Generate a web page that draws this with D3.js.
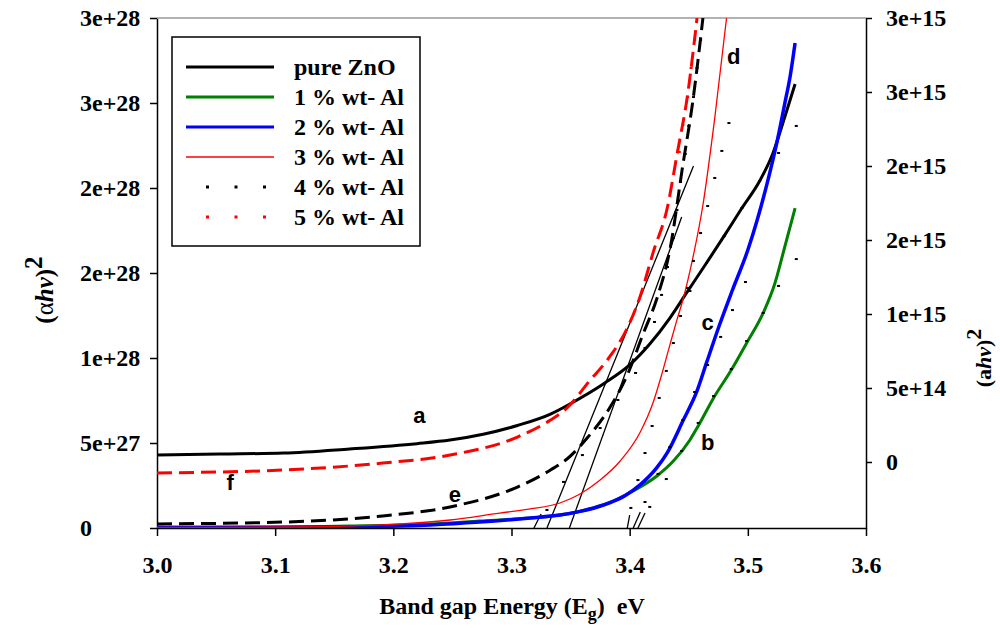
<!DOCTYPE html>
<html>
<head>
<meta charset="utf-8">
<title>Band gap</title>
<script src="https://cdn.jsdelivr.net/npm/d3@7"></script>
<style>
  body { margin: 0; background: #fff; }
  text { font-family: "Liberation Serif", "Times New Roman", serif; font-weight: bold; fill: #000; }
  .lbl { font-family: "Liberation Sans", Arial, sans-serif; font-size: 22px; }
</style>
</head>
<body>
<script>
// energies in eV, values in units of 1e27 on the left axis
let pureZnO = [[3.000,4.29],[3.053,4.35],[3.107,4.41],[3.163,4.65],[3.220,4.96],[3.248,5.17],[3.276,5.51],[3.305,6.03],[3.333,6.70],[3.349,7.28],[3.379,8.53],[3.400,9.59],[3.417,10.82],[3.434,12.35],[3.447,13.71],[3.465,15.59],[3.480,17.18],[3.495,18.82],[3.510,20.41],[3.521,22.00],[3.531,24.12],[3.540,26.12]]
let al1 = [[3.000,0.06],[3.079,0.06],[3.163,0.12],[3.231,0.24],[3.273,0.41],[3.316,0.59],[3.341,0.76],[3.369,1.18],[3.383,1.50],[3.398,2.00],[3.423,3.06],[3.437,3.94],[3.451,5.18],[3.458,6.00],[3.471,7.65],[3.486,9.29],[3.499,10.88],[3.513,12.65],[3.523,14.41],[3.531,16.47],[3.540,18.82]]
let al2 = [[3.000,0.02],[3.079,0.03],[3.163,0.06],[3.231,0.18],[3.273,0.35],[3.316,0.59],[3.341,0.76],[3.358,0.98],[3.372,1.22],[3.383,1.48],[3.396,1.90],[3.409,2.55],[3.423,3.55],[3.432,4.45],[3.445,6.29],[3.457,8.06],[3.465,9.71],[3.476,11.94],[3.487,14.00],[3.500,16.35],[3.516,20.18],[3.525,22.82],[3.531,24.88],[3.536,26.65],[3.540,28.53]]
let al3 = [[3.000,0.03],[3.121,0.06],[3.206,0.24],[3.248,0.47],[3.290,0.88],[3.316,1.12],[3.341,1.47],[3.358,2.00],[3.375,2.82],[3.392,3.94],[3.409,5.65],[3.420,7.41],[3.427,9.00],[3.434,10.76],[3.440,12.24],[3.445,13.41],[3.454,16.06],[3.462,19.00],[3.472,24.12],[3.482,30.00]]
let al4 = [[3.000,0.24],[3.107,0.35],[3.191,0.71],[3.248,1.24],[3.305,2.41],[3.333,3.41],[3.347,4.06],[3.364,5.29],[3.383,7.06],[3.398,9.00],[3.411,11.35],[3.424,13.71],[3.434,16.35],[3.445,21.35],[3.453,24.88],[3.462,30.00]]
let al5 = [[3.000,3.24],[3.107,3.41],[3.191,3.82],[3.248,4.29],[3.305,5.35],[3.333,6.35],[3.347,7.06],[3.366,8.65],[3.383,10.06],[3.398,11.76],[3.409,13.65],[3.420,16.24],[3.432,18.88],[3.440,21.94],[3.449,25.47],[3.457,30.00]]

// sparse dotted points
let dots4 = [[3.460,28.71],[3.457,27.06],[3.454,25.35],[3.450,23.65],[3.447,22.00],[3.443,20.35],[3.440,18.71],[3.437,17.06],[3.432,15.35],[3.427,13.71],[3.421,12.12],[3.413,10.59],[3.405,9.12],[3.390,7.53],[3.375,5.88],[3.360,4.29],[3.344,2.71],[3.330,1.06],
             [3.484,23.82],[3.478,22.18],[3.472,20.59],[3.466,18.94],[3.460,17.35],[3.454,15.71],[3.449,14.12],[3.443,12.47],[3.437,10.88],[3.431,9.24],[3.425,7.65],[3.419,6.00],[3.413,4.41],[3.407,2.82],[3.401,1.18],
             [3.498,14.47],[3.487,12.82],[3.477,11.24],[3.466,9.59],[3.455,8.00],[3.445,6.35],[3.434,4.76],[3.424,3.18],[3.413,1.53],
             [3.541,15.82],[3.526,14.24],[3.513,12.65],[3.499,11.00],[3.486,9.35],[3.471,7.76],[3.458,6.18],[3.444,4.53],[3.431,2.88],[3.417,1.24],
             [3.541,23.65],[3.526,22.06],[3.510,20.41],[3.495,18.82],[3.480,17.18],[3.465,15.59],[3.451,13.94]]
let dots5 = [[3.455,28.71],[3.452,27.06],[3.449,25.35],[3.445,23.71],[3.442,22.12]]

// extrapolated tangents and short marks on the energy axis
let tangents = [[[3.330,0],[3.454,21.29]], [[3.349,0],[3.444,18.29]]]
let marks = [[[3.319,0],[3.325,0.82]], [[3.398,0],[3.400,0.76]], [[3.403,0],[3.409,0.94]], [[3.407,0],[3.413,0.88]]]

let xTicks = [3.0,3.1,3.2,3.3,3.4,3.5,3.6]
let leftTicks = [0,5,10,15,20,25,30]
let leftLabels = ["0","5e+27","1e+28","2e+28","2e+28","3e+28","3e+28"]
let rightTicks = [0,5e14,1e15,1.5e15,2e15,2.5e15,3e15]
let rightLabels = ["0","5e+14","1e+15","2e+15","2e+15","3e+15","3e+15"]

let seriesNames = ["pure ZnO","1 % wt- Al","2 % wt- Al","3 % wt- Al","4 % wt- Al","5 % wt- Al"]
// letter, energy, value at the text baseline
let curveLetters = [["a",3.222,6.18],["b",3.466,4.59],["c",3.466,11.65],["d",3.488,27.29],["e",3.252,1.53],["f",3.062,2.24]]

let w = 1000
let h = 628
let pLeft = 157, pRight = 866, pTop = 18, pBottom = 528

let svg = d3.select("body").append("svg").attr("width", w).attr("height", h)

let x = d3.scaleLinear().domain([3.0, 3.6]).range([pLeft, pRight])
let y = d3.scaleLinear().domain([0, 30]).range([pBottom, pTop])
let yR = d3.scaleLinear().domain([-4.46e14, 3e15]).range([pBottom, pTop])

svg.append("clipPath").attr("id", "clip")
   .append("rect").attr("x", pLeft).attr("y", pTop).attr("width", pRight - pLeft).attr("height", pBottom - pTop)

// axes
let xAxis = d3.axisBottom(x).tickValues(xTicks).tickFormat(d3.format(".1f")).tickSize(8).tickSizeOuter(0).tickPadding(20)
let gx = svg.append("g").attr("transform", "translate(0," + pBottom + ")").call(xAxis)
let yAxis = d3.axisLeft(y).tickValues(leftTicks).tickFormat((d, i) => leftLabels[i]).tickSize(7).tickSizeOuter(0)
let gy = svg.append("g").attr("transform", "translate(" + pLeft + ",0)").call(yAxis)
let yAxisR = d3.axisRight(yR).tickValues(rightTicks).tickFormat((d, i) => rightLabels[i]).tickSize(6).tickSizeOuter(0).tickPadding(14)
let gr = svg.append("g").attr("transform", "translate(" + pRight + ",0)").call(yAxisR)
for (let g of [gx, gy, gr]) {
    g.selectAll("path.domain").attr("stroke", "#000").attr("stroke-width", 1.5)
    g.selectAll(".tick line").attr("stroke", "#000").attr("stroke-width", 1.5)
    g.selectAll(".tick text").style("font-family", "Liberation Serif").style("font-weight", "bold").style("font-size", "24px").attr("fill", "#000")
}
// left labels sit flush left
gy.selectAll(".tick text").attr("text-anchor", "start").attr("x", -77)

svg.append("line").attr("x1", pLeft).attr("x2", pRight).attr("y1", pTop).attr("y2", pTop)
   .attr("stroke", "#999").attr("stroke-width", 1.5)

let plot = svg.append("g").attr("clip-path", "url(#clip)")
let line = d3.line().x(d => x(d[0])).y(d => y(d[1])).curve(d3.curveMonotoneX)
let straight = d3.line().x(d => x(d[0])).y(d => y(d[1]))

for (let t of tangents) {
    plot.append("path").attr("d", straight(t)).attr("fill", "none").attr("stroke", "#000").attr("stroke-width", 1.3)
}
for (let m of marks) {
    plot.append("path").attr("d", straight(m)).attr("fill", "none").attr("stroke", "#000").attr("stroke-width", 1.3)
}

let styles = [
    {data: pureZnO, color: "#000", width: 3, dash: null},
    {data: al1, color: "#008000", width: 3, dash: null},
    {data: al2, color: "#0000ff", width: 3.5, dash: null},
    {data: al3, color: "#ff0000", width: 1.3, dash: null},
    {data: al4, color: "#000", width: 3, dash: "15,7"},
    {data: al5, color: "#ff0000", width: 3, dash: "15,7"}
]
for (let s of styles) {
    plot.append("path").attr("d", line(s.data)).attr("fill", "none")
        .attr("stroke", s.color).attr("stroke-width", s.width)
        .attr("stroke-dasharray", s.dash)
}

plot.selectAll(".d4").data(dots4).enter().append("rect")
    .attr("x", d => x(d[0]) - 1.5).attr("y", d => y(d[1]) - 1).attr("width", 3).attr("height", 2).attr("fill", "#000")
plot.selectAll(".d5").data(dots5).enter().append("rect")
    .attr("x", d => x(d[0]) - 1.5).attr("y", d => y(d[1]) - 1).attr("width", 3).attr("height", 2).attr("fill", "#ff0000")

svg.selectAll(".lbl").data(curveLetters).enter().append("text")
    .attr("class", "lbl")
    .attr("x", d => x(d[1])).attr("y", d => y(d[2]))
    .attr("text-anchor", "middle")
    .text(d => d[0])

// legend
let lg = svg.append("g")
lg.append("rect").attr("x", 172).attr("y", 37).attr("width", 248).attr("height", 209)
  .attr("fill", "#fff").attr("stroke", "#000").attr("stroke-width", 1.5)
seriesNames.forEach((name, i) => {
    let yy = 67 + i * 30
    let s = styles[i]
    if (i < 4) {
        lg.append("line").attr("x1", 186).attr("x2", 274).attr("y1", yy).attr("y2", yy)
          .attr("stroke", s.color).attr("stroke-width", s.width === 3.5 ? 3 : s.width)
    } else {
        for (let k = 0; k < 3; k++) {
            lg.append("rect").attr("x", 206 + k * 28.5).attr("y", yy - 1.5).attr("width", 3).attr("height", 3)
              .attr("fill", i === 4 ? "#000" : "#ff0000")
        }
    }
    lg.append("text").attr("x", 294).attr("y", yy).attr("dy", "0.35em").style("font-size", "24px").text(name)
})

// axis titles
let xt = svg.append("text").attr("x", 512).attr("y", 614).attr("text-anchor", "middle").style("font-size", "24px")
xt.append("tspan").text("Band gap Energy (E")
xt.append("tspan").attr("dy", 6).style("font-size", "18px").text("g")
xt.append("tspan").attr("dy", -6).text(")\u00a0\u00a0eV")

let yt = svg.append("text").attr("transform", "translate(53,290) rotate(-90)").attr("text-anchor", "middle").style("font-size", "25px")
yt.append("tspan").text("(")
yt.append("tspan").style("font-weight", "normal").text("\u03b1")
yt.append("tspan").style("font-style", "italic").text("hv")
yt.append("tspan").text(")")
yt.append("tspan").attr("dy", -11).text("2")

let rt = svg.append("text").attr("transform", "translate(991,358) rotate(-90)").attr("text-anchor", "middle").style("font-size", "22px")
rt.append("tspan").text("(a")
rt.append("tspan").style("font-style", "italic").text("hv")
rt.append("tspan").text(")")
rt.append("tspan").attr("dy", -10).text("2")
</script>
</body>
</html>
